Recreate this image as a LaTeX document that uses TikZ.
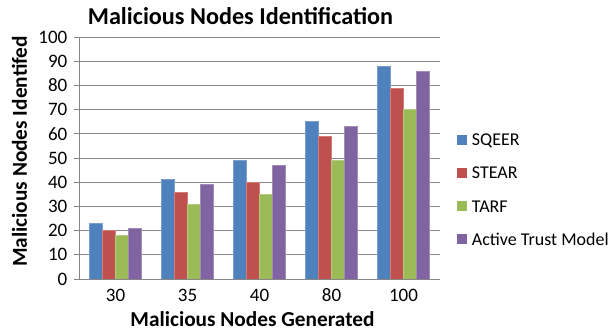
\documentclass[tikz,border=0pt]{standalone}
\usepackage{fontspec}
\setmainfont{Carlito}
\definecolor{sqeer}{HTML}{4F81BD}
\definecolor{stear}{HTML}{C0504D}
\definecolor{tarf}{HTML}{9BBB59}
\definecolor{atm}{HTML}{8064A2}
\definecolor{gridgray}{HTML}{868686}
\tikzset{
  gridline/.style={draw=gridgray, line width=0.9pt},
  bar/.style={fill=#1, draw=#1!75!white, line width=0.6pt},
  ticklabel/.style={font=\fontsize{19}{20}\selectfont, inner sep=0pt},
  legendtext/.style={font=\fontsize{18}{19}\selectfont, inner sep=0pt, anchor=west},
  legendkey/.style={fill=#1, minimum size=10pt, inner sep=0pt},
  axislabel/.style={font=\bfseries\fontsize{21.3}{22}\selectfont, inner sep=0pt},
  titlestyle/.style={font=\bfseries\fontsize{24.2}{25}\selectfont, inner sep=0pt},
}
\begin{document}
\begin{tikzpicture}[x=1pt, y=1pt]
\useasboundingbox (0,0) rectangle (616,331);
\fill[white] (0,0) rectangle (616,331);
% value v sits at height 52 + 2.42 v; plot spans x = 79.5 .. 439.5
\foreach \v in {10,20,...,100} {
  \draw[gridline] (79.5,{52+2.42*\v}) -- (439.5,{52+2.42*\v});
}
% y tick marks and labels
\foreach \v in {0,10,...,100} {
  \draw[gridline] (74,{52+2.42*\v}) -- (79.5,{52+2.42*\v});
  \node[ticklabel, anchor=east] (y\v) at (67.5,{52+2.42*\v}) {\v};
}
% bars: SQEER, STEAR, TARF, Active Trust Model
\foreach \c/\a/\b/\t/\m [count=\i from 0] in {30/23/20/18/21, 35/41/36/31/39, 40/49/40/35/47, 80/65/59/49/63, 100/88/79/70/86} {
  \pgfmathsetmacro{\cx}{115.5+72*\i}
  \draw[bar=sqeer] ({\cx-26},52) rectangle ({\cx-13},{52+2.42*\a});
  \draw[bar=stear] ({\cx-13},52) rectangle ({\cx},{52+2.42*\b});
  \draw[bar=tarf]  ({\cx},52) rectangle ({\cx+13},{52+2.42*\t});
  \draw[bar=atm]   ({\cx+13},52) rectangle ({\cx+26},{52+2.42*\m});
  \node[ticklabel] (x\c) at (\cx,35.5) {\c};
}
% axes
\draw[gridline] (79.5,52) -- (439.5,52);
\draw[gridline] (79.5,52) -- (79.5,294);
% titles
\node[titlestyle] (title) at (240.5,315) {Malicious Nodes Identification};
\node[axislabel] (xlabel) at (252.5,11.5) {Malicious Nodes Generated};
\node[axislabel, rotate=90] (ylabel) at (19.5,179.5) {Malicious Nodes Identifed};
% legend
\foreach \name/\col/\py in {SQEER/sqeer/140.5, STEAR/stear/173, TARF/tarf/206.5, Active Trust Model/atm/239.5} {
  \node[legendkey=\col] (k\col) at (461.7,331-\py) {};
  \node[legendtext] (l\col) at (471.7,331-\py) {\name};
}
\end{tikzpicture}
\end{document}
